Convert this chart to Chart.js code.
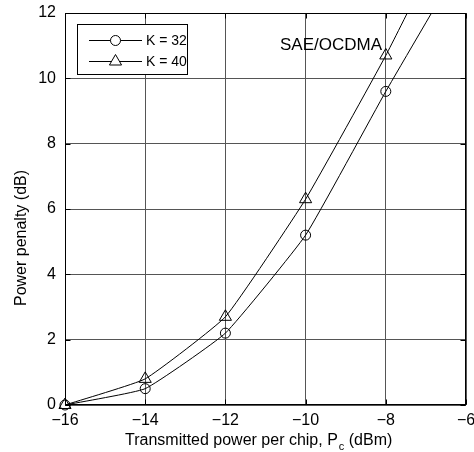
<!DOCTYPE html>
<html>
<head>
<meta charset="utf-8">
<title>Power penalty vs transmitted power per chip</title>
<script src="https://cdn.jsdelivr.net/npm/chart.js"></script>
<style>
  html, body { margin: 0; padding: 0; background: #fff; }
  #wrap { width: 474px; height: 452px; }
</style>
</head>
<body>
<div id="wrap"><canvas id="c" width="474" height="452"></canvas></div>
<script>
// data
const powerDbm = [-16, -14, -12, -10, -8, -6];
const penaltyK32 = [0, 0.5, 2.2, 5.2, 9.6, 13.8];
const penaltyK40 = [0, 0.8, 2.7, 6.3, 10.7, 15.6];
const seriesLabels = ['K = 32', 'K = 40'];
const xTicks = [-16, -14, -12, -10, -8, -6];
const yTicks = [0, 2, 4, 6, 8, 10, 12];

const FONT = '"Liberation Sans", Arial, Helvetica, sans-serif';
const minus = v => String(v).replace('-', '\u2212');

function pts(ys) {
    return powerDbm.map((x, i) => ({ x: x, y: ys[i] }));
}
// no marker on the point that lies outside the axes
const radii = r => powerDbm.map(x => x > -8 ? 0 : r);

// box, inside ticks, legend and text, drawn like the matlab figure
const decor = {
    id: 'decor',
    afterDatasetsDraw(chart) {
        const { ctx, chartArea: a, scales: { x, y } } = chart;
        const L = Math.round(a.left) + 0.5, R = Math.round(a.right) - 0.5;
        const T = Math.round(a.top) + 0.5, B = Math.round(a.bottom) - 0.5;
        ctx.save();
        ctx.strokeStyle = '#000';
        ctx.lineWidth = 1;
        ctx.strokeRect(L, T, R - L, B - T);

        ctx.beginPath();
        xTicks.forEach(v => {
            const px = Math.round(x.getPixelForValue(v)) + 0.5;
            ctx.moveTo(px, B); ctx.lineTo(px, B - 5);
            ctx.moveTo(px, T); ctx.lineTo(px, T + 5);
        });
        yTicks.forEach(v => {
            const py = Math.round(y.getPixelForValue(v)) + 0.5;
            ctx.moveTo(L, py); ctx.lineTo(L + 5, py);
            ctx.moveTo(R, py); ctx.lineTo(R - 5, py);
        });
        ctx.stroke();

        // legend
        ctx.fillStyle = '#fff';
        ctx.fillRect(77.5, 24.5, 110, 50);
        ctx.strokeRect(77.5, 24.5, 110, 50);
        const rowsY = [40.5, 61.5];
        chart.data.datasets.forEach((ds, i) => {
            const yy = rowsY[i];
            ctx.beginPath();
            ctx.moveTo(89, yy); ctx.lineTo(142, yy);
            ctx.stroke();
            ctx.fillStyle = '#fff';
            Chart.helpers.drawPoint(ctx, {
                pointStyle: ds.pointStyle,
                radius: ds.legendRadius,
                borderWidth: 1
            }, 115.5, yy);
            ctx.fillStyle = '#000';
            ctx.font = '14px ' + FONT;
            ctx.textAlign = 'left';
            ctx.textBaseline = 'middle';
            ctx.fillText(ds.label, 146, yy + 0.5);
        });

        // annotation
        ctx.fillStyle = '#000';
        ctx.font = '17px ' + FONT;
        ctx.textAlign = 'left';
        ctx.textBaseline = 'middle';
        ctx.fillText('SAE/OCDMA', 280, 45);

        // y title
        ctx.save();
        ctx.translate(22, 238);
        ctx.rotate(-Math.PI / 2);
        ctx.font = '16px ' + FONT;
        ctx.textAlign = 'center';
        ctx.textBaseline = 'middle';
        ctx.fillText('Power penalty (dB)', 0, 0);
        ctx.restore();

        // x title with subscript
        ctx.font = '16px ' + FONT;
        ctx.textAlign = 'left';
        ctx.textBaseline = 'alphabetic';
        let tx = 125;
        const main = 'Transmitted power per chip, P';
        ctx.fillText(main, tx, 445);
        tx += ctx.measureText(main).width;
        ctx.font = '11px ' + FONT;
        ctx.fillText('c', tx + 1, 450);
        tx += ctx.measureText('c').width + 1;
        ctx.font = '16px ' + FONT;
        ctx.fillText(' (dBm)', tx, 445);
        ctx.restore();
    }
};

const common = {
    borderColor: '#000',
    backgroundColor: 'rgba(0,0,0,0)',
    borderWidth: 1,
    pointBorderColor: '#000',
    pointBackgroundColor: 'rgba(0,0,0,0)',
    pointBorderWidth: 1,
    tension: 0.12,
    clip: { left: 10, bottom: 10, top: 0, right: 0 }
};

new Chart(document.getElementById('c'), {
    type: 'line',
    data: {
        datasets: [
            Object.assign({}, common, {
                label: seriesLabels[0],
                data: pts(penaltyK32),
                pointStyle: 'circle',
                pointRadius: radii(5),
                legendRadius: 5
            }),
            Object.assign({}, common, {
                label: seriesLabels[1],
                data: pts(penaltyK40),
                pointStyle: 'triangle',
                pointRadius: radii(7),
                legendRadius: 7
            })
        ]
    },
    options: {
        responsive: false,
        animation: false,
        layout: { padding: { left: 0, top: 13, right: 2, bottom: 0 } },
        plugins: { legend: { display: false }, tooltip: { enabled: false } },
        scales: {
            x: {
                type: 'linear',
                min: -16, max: -6,
                afterBuildTicks: s => { s.ticks = xTicks.map(v => ({ value: v })); },
                afterFit: s => { s.height = 47; s.paddingLeft = 0; s.paddingRight = 0; },
                border: { display: false },
                grid: { color: '#555', lineWidth: 1, drawTicks: false, tickLength: 0, borderDash: [1, 6] },
                ticks: {
                    padding: 6,
                    maxRotation: 0,
                    autoSkip: false,
                    color: '#000',
                    font: { family: FONT, size: 16 },
                    callback: v => minus(v)
                }
            },
            y: {
                min: 0, max: 12,
                afterBuildTicks: s => { s.ticks = yTicks.map(v => ({ value: v })); },
                afterFit: s => { s.width = 65; s.paddingTop = 0; s.paddingBottom = 0; },
                border: { display: false },
                grid: { color: '#555', lineWidth: 1, drawTicks: false, tickLength: 0, borderDash: [1, 6] },
                ticks: {
                    padding: 9,
                    autoSkip: false,
                    color: '#000',
                    font: { family: FONT, size: 16 },
                    callback: v => minus(v)
                }
            }
        }
    },
    plugins: [decor]
});
</script>
</body>
</html>
